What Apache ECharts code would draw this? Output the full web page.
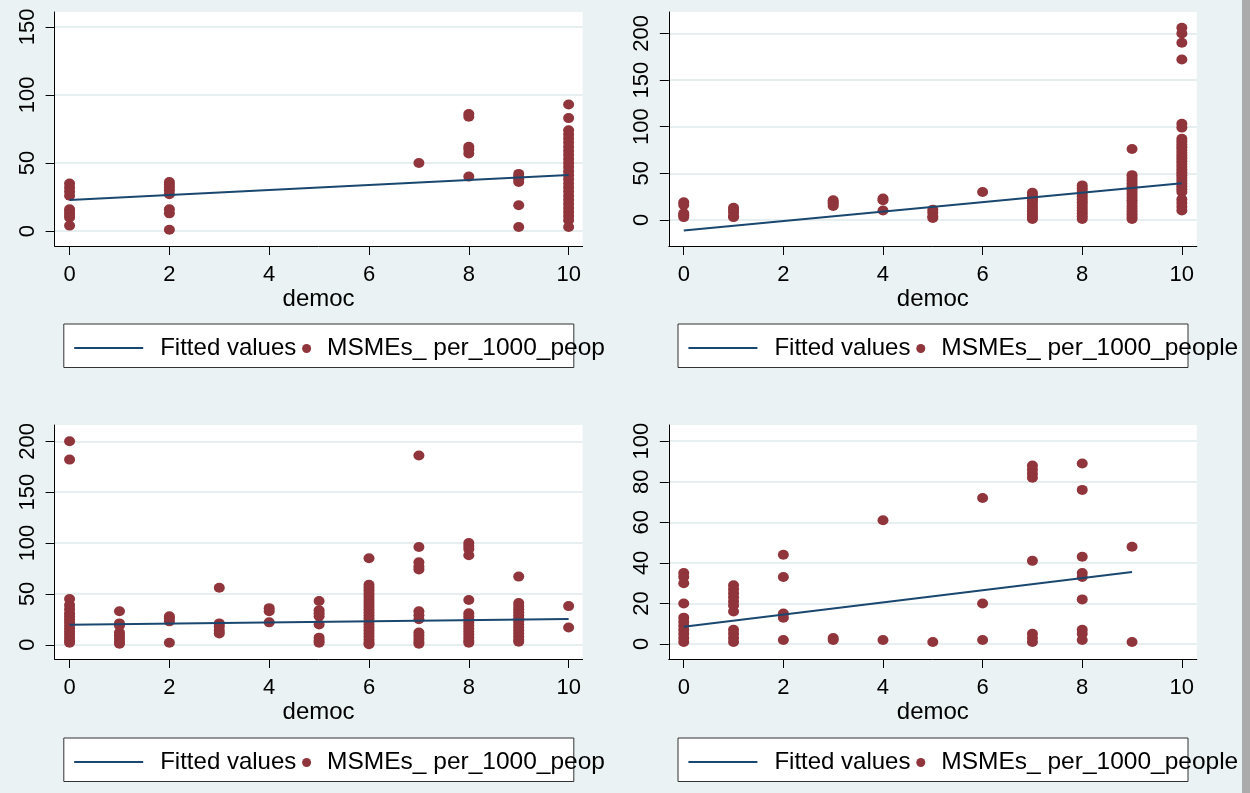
<!DOCTYPE html>
<html>
<head>
<meta charset="utf-8">
<title>MSMEs per 1000 people vs democ</title>
<script src="https://cdn.jsdelivr.net/npm/echarts@6/dist/echarts.min.js"></script>
<style>
  html, body { margin: 0; padding: 0; background: #eaf2f3; }
  #main { width: 1250px; height: 793px; }
</style>
</head>
<body>
<div id="main"></div>
<script>
// democ ticks, same on every panel
const democTicks = [0, 2, 4, 6, 8, 10];

// y ticks of each panel
const yTicksTL = [0, 50, 100, 150];
const yTicksTR = [0, 50, 100, 150, 200];
const yTicksBL = [0, 50, 100, 150, 200];
const yTicksBR = [0, 20, 40, 60, 80, 100];

// MSMEs per 1000 people, grouped by democ value: [democ, [values]]
const dotsTL = [
  [0, [35, 32, 29, 26, 16, 14, 12, 10, 4]],
  [2, [36, 34, 32, 30, 27, 16, 13, 1]],
  [7, [50]],
  [8, [86, 84, 62, 60, 57, 40]],
  [9, [42, 40, 38, 36, 19, 3]],
  [10, [93, 83, 74, 71, 68, 65, 62, 59, 56, 53, 50, 47, 44, 41, 38, 35, 32, 29, 26, 23, 20, 17, 14, 11, 8, 3]]
];
const dotsTR = [
  [0, [19, 16, 7, 5, 3]],
  [1, [13, 11, 8, 4, 3]],
  [3, [21, 19, 17, 15]],
  [4, [23, 21, 10]],
  [5, [11, 8, 4, 2]],
  [6, [30]],
  [7, [29, 26, 23, 21, 18, 15, 12, 9, 6, 3, 1]],
  [8, [37, 34, 31, 28, 25, 22, 19, 16, 13, 10, 7, 4, 1]],
  [9, [76, 48, 45, 42, 39, 36, 33, 30, 27, 24, 21, 18, 15, 12, 9, 6, 3, 1]],
  [10, [206, 200, 190, 172, 103, 99, 87, 84, 81, 78, 75, 72, 69, 66, 63, 60, 57, 54, 51, 48, 45, 42, 39, 36, 33, 30, 22, 18, 14, 10]]
];
const dotsBL = [
  [0, [200, 182, 45, 39, 35, 31, 28, 25, 22, 19, 16, 13, 10, 7, 4, 2]],
  [1, [33, 21, 19, 12, 9, 6, 3, 1]],
  [2, [28, 26, 23, 2]],
  [3, [56, 21, 18, 14, 11]],
  [4, [36, 33, 22]],
  [5, [43, 34, 31, 28, 20, 7, 4, 2]],
  [6, [85, 59, 56, 53, 50, 47, 44, 41, 38, 35, 32, 29, 26, 23, 20, 17, 14, 11, 8, 5, 2, 0.5]],
  [7, [186, 96, 81, 77, 74, 33, 29, 25, 12, 9, 6, 3, 1]],
  [8, [100, 97, 94, 88, 44, 31, 28, 25, 22, 19, 16, 13, 10, 7, 4, 2]],
  [9, [67, 41, 38, 35, 32, 29, 26, 23, 20, 17, 14, 11, 8, 5, 3]],
  [10, [38, 17]]
];
const dotsBR = [
  [0, [35, 33, 30, 20, 13, 11, 9, 7, 5, 3, 1]],
  [1, [29, 27, 25, 23, 21, 19, 16, 7, 5, 3, 1]],
  [2, [44, 33, 15, 13, 2]],
  [3, [3, 2]],
  [4, [61, 2]],
  [5, [1]],
  [6, [72, 20, 2]],
  [7, [88, 86, 84, 82, 41, 5, 3, 1]],
  [8, [89, 76, 43, 35, 33, 22, 7, 5, 2]],
  [9, [48, 1]]
];

// fitted values (linear fit), end points
const fitTL = [[0, 22.8], [10, 41.2]];
const fitTR = [[0, -11.3], [10, 39.2]];
const fitBL = [[0, 19.6], [10, 25.2]];
const fitBR = [[0, 8.5], [9, 35.5]];

const shortName = 'MSMEs_ per_1000_peop';
const longName = 'MSMEs_ per_1000_people';

function toPoints(groups) {
  const out = [];
  groups.forEach(function (g) {
    g[1].forEach(function (v) { out.push([g[0], v]); });
  });
  return out;
}

// panel layout (px)
const panels = [
  { dots: dotsTL, fit: fitTL, yTicks: yTicksTL, name: shortName, yMin: -11, yMax: 161, xMax: 10.28, left: 54.6, top: 12, boxTop: 324 },
  { dots: dotsTR, fit: fitTR, yTicks: yTicksTR, name: longName, yMin: -28, yMax: 223, xMax: 10.3, left: 668.8, top: 12, boxTop: 324 },
  { dots: dotsBL, fit: fitBL, yTicks: yTicksBL, name: shortName, yMin: -14, yMax: 216, xMax: 10.28, left: 54.6, top: 425, boxTop: 738 },
  { dots: dotsBR, fit: fitBR, yTicks: yTicksBR, name: longName, yMin: -7.4, yMax: 108, xMax: 10.3, left: 668.8, top: 425, boxTop: 738 }
];

const font = { fontFamily: '"Liberation Sans", Arial, sans-serif', color: '#000' };

const grid = [], xAxis = [], yAxis = [], series = [], legend = [], graphic = [];

panels.forEach(function (p, i) {
  grid.push({
    left: p.left, top: p.top, width: 528, height: 234,
    show: true, backgroundColor: '#fff', borderWidth: 0,
    outerBoundsMode: 'none'
  });
  xAxis.push({
    type: 'value', gridIndex: i, min: -0.3, max: p.xMax,
    name: 'democ', nameLocation: 'middle', nameGap: 39,
    nameTextStyle: Object.assign({ fontSize: 24 }, font),
    axisLine: { show: true, onZero: false, lineStyle: { color: '#000', width: 1 } },
    axisTick: { show: true, length: 9, customValues: democTicks, lineStyle: { color: '#000' } },
    axisLabel: Object.assign({ fontSize: 22, margin: 18, customValues: democTicks }, font),
    splitLine: { show: false }
  });
  yAxis.push({
    type: 'value', gridIndex: i, min: p.yMin, max: p.yMax,
    axisLine: { show: true, onZero: false, lineStyle: { color: '#000', width: 1 } },
    axisTick: { show: true, length: 9, customValues: p.yTicks, lineStyle: { color: '#000' } },
    axisLabel: Object.assign({ fontSize: 22, margin: 16, rotate: 90, customValues: p.yTicks }, font),
    splitLine: { show: true, lineStyle: { color: '#e6eef0', width: 2 } }
  });
  series.push({
    name: 'Fitted values', type: 'line', xAxisIndex: i, yAxisIndex: i,
    data: p.fit, symbol: 'none', silent: true,
    lineStyle: { color: '#1a476f', width: 2 }, itemStyle: { color: '#1a476f' }
  });
  series.push({
    name: p.name, type: 'scatter', xAxisIndex: i, yAxisIndex: i,
    data: toPoints(p.dots), symbolSize: [11, 10],
    itemStyle: { color: '#90353b', opacity: 1 }
  });

  // legend box, then two legend items on top of it
  graphic.push({
    type: 'rect', z: 1,
    shape: { x: p.left + 9.2, y: p.boxTop, width: 510, height: 43.5 },
    style: { fill: '#fff', stroke: '#333', lineWidth: 1 }
  });
  legend.push({
    data: ['Fitted values'], left: p.left + 18.6, top: p.boxTop + 12, padding: 0,
    itemWidth: 69, itemHeight: 14, selectedMode: false,
    itemStyle: { opacity: 0 },
    textStyle: Object.assign({ fontSize: 24, padding: [0, 0, 0, 12] }, font)
  });
  legend.push({
    data: [p.name], icon: 'circle', left: p.left + 247.5, top: p.boxTop + 12, padding: 0,
    itemWidth: 9, itemHeight: 9, selectedMode: false,
    textStyle: Object.assign({ fontSize: 24.5, padding: [0, 0, 0, 11] }, font)
  });
});

// grey strip on the right edge of the picture
graphic.push({
  type: 'rect', z: 1,
  shape: { x: 1242, y: 0, width: 8, height: 793 },
  style: { fill: '#ababab' }
});

const chart = echarts.init(document.getElementById('main'));
chart.setOption({
  backgroundColor: '#eaf2f3',
  animation: false,
  grid: grid,
  xAxis: xAxis,
  yAxis: yAxis,
  legend: legend,
  graphic: graphic,
  series: series
});
</script>
</body>
</html>
